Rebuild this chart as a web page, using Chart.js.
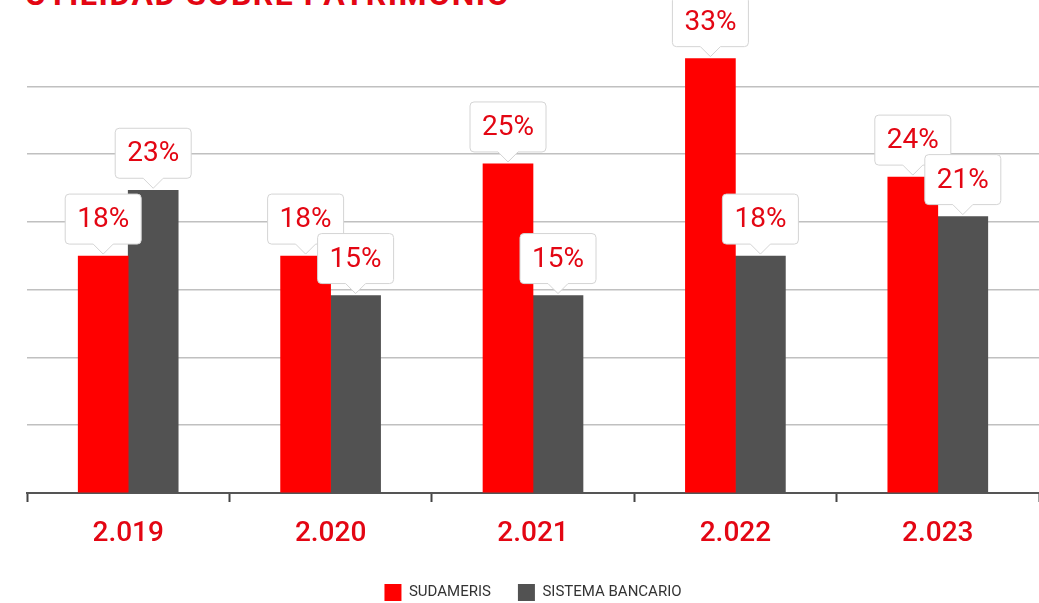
<!DOCTYPE html>
<html>
<head>
<meta charset="utf-8">
<script src="https://cdn.jsdelivr.net/npm/chart.js@4.4.0/dist/chart.umd.min.js"></script>
<style>
  html, body { margin: 0; padding: 0; background: #fff; overflow: hidden; }
  #wrap { position: relative; width: 1039px; height: 603px; overflow: hidden; }
  #title {
    position: absolute; left: 25px; top: -22px;
    font: bold 32px Roboto, sans-serif; line-height: 32px;
    letter-spacing: 1.5px; color: #e30613; white-space: nowrap;
  }
  canvas { position: absolute; left: 0; top: 0; }
</style>
</head>
<body>
<div id="wrap">
  <div id="title">UTILIDAD SOBRE PATRIMONIO</div>
  <canvas id="myChart" width="1039" height="611"></canvas>
</div>
<script>
const years = ["2.019", "2.020", "2.021", "2.022", "2.023"];
const sudameris = [18, 18, 25, 33, 24];
const sistemaBancario = [23, 15, 15, 18, 21];

const red = "#ff0000";
const grey = "#525252";
const textRed = "#e30613";

// callout boxes with the value above each bar
const calloutPlugin = {
  id: "callouts",
  afterDatasetsDraw(chart) {
    const ctx = chart.ctx;
    const w = 76, h = 50, tip = 10;
    ctx.save();
    chart.data.datasets.forEach((ds, i) => {
      chart.getDatasetMeta(i).data.forEach((bar, j) => {
        const x = bar.x;
        const apex = bar.y - 2;
        const bottom = apex - tip;
        const top = bottom - h;
        const left = x - w / 2;
        const r = 4;
        ctx.beginPath();
        ctx.moveTo(left + r, top);
        ctx.lineTo(left + w - r, top);
        ctx.quadraticCurveTo(left + w, top, left + w, top + r);
        ctx.lineTo(left + w, bottom - r);
        ctx.quadraticCurveTo(left + w, bottom, left + w - r, bottom);
        ctx.lineTo(x + 10, bottom);
        ctx.lineTo(x, apex);
        ctx.lineTo(x - 10, bottom);
        ctx.lineTo(left + r, bottom);
        ctx.quadraticCurveTo(left, bottom, left, bottom - r);
        ctx.lineTo(left, top + r);
        ctx.quadraticCurveTo(left, top, left + r, top);
        ctx.closePath();
        ctx.fillStyle = "#fff";
        ctx.fill();
        ctx.strokeStyle = "#d4d4d4";
        ctx.lineWidth = 1;
        ctx.stroke();

        ctx.fillStyle = textRed;
        ctx.font = "28px Roboto";
        ctx.textAlign = "center";
        ctx.textBaseline = "middle";
        ctx.fillText(ds.data[j] + "%", x, top + h / 2 + 1);
      });
    });
    ctx.restore();
  }
};

const ctx = document.getElementById("myChart").getContext("2d");
const barChart = new Chart(ctx, {
  type: "bar",
  data: {
    labels: years,
    datasets: [
      {
        label: "SUDAMERIS",
        data: sudameris,
        backgroundColor: red,
        barThickness: 50
      },
      {
        label: "SISTEMA BANCARIO",
        data: sistemaBancario,
        backgroundColor: grey,
        barThickness: 50
      }
    ]
  },
  options: {
    responsive: false,
    animation: false,
    layout: {
      padding: { top: 6, left: 27, right: 0, bottom: 0 }
    },
    scales: {
      x: {
        offset: true,
        afterFit: (scale) => {
          scale.height = 64;
        },
        grid: {
          offset: true,
          drawOnChartArea: false,
          drawTicks: true,
          tickLength: 9,
          tickWidth: 2,
          tickColor: "#444"
        },
        border: { display: true, color: "#555", width: 2 },
        ticks: {
          color: textRed,
          padding: 11,
          font: { family: "Roboto", size: 28, weight: "500", lineHeight: 1.5 }
        }
      },
      y: {
        min: 0,
        max: 37,
        display: true,
        border: { display: false },
        grid: {
          drawTicks: false,
          lineWidth: 1.5,
          color: (c) => (c.tick && c.tick.value > 31 ? "rgba(0,0,0,0)" : "#c0c0c0")
        },
        ticks: { display: false, stepSize: 5.15, includeBounds: false }
      }
    },
    plugins: {
      legend: {
        position: "bottom",
        labels: {
          boxWidth: 17,
          boxHeight: 17,
          padding: 27,
          color: "#333",
          font: { family: "Roboto", size: 15 }
        }
      },
      tooltip: { enabled: false }
    }
  },
  plugins: [calloutPlugin]
});
</script>
</body>
</html>
